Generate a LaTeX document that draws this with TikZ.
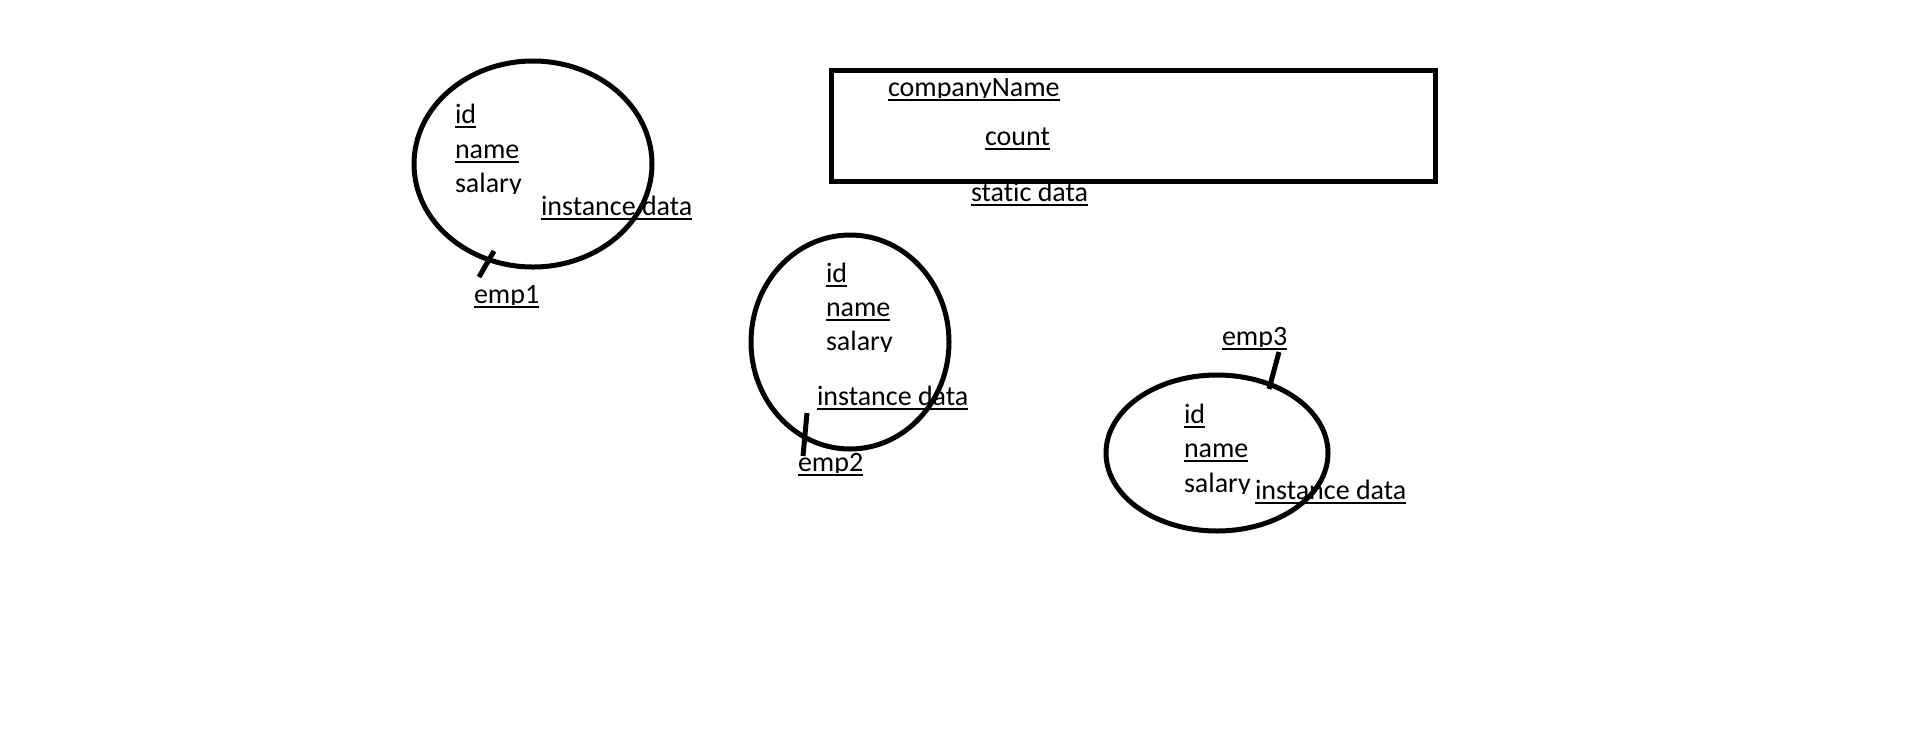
\documentclass[tikz,border=0pt]{standalone}
\usepackage{fontspec}
\setmainfont{Carlito}[Ligatures={NoCommon}]
\usetikzlibrary{calc,shapes.geometric}
\tikzset{
  oval/.style={draw, ellipse, line width=5pt, inner sep=0pt},
  lbl/.style={anchor=base west, inner sep=0pt, outer sep=0pt, font=\fontsize{28}{34}\selectfont},
  ulline/.style={line width=2pt},
  tickline/.style={line width=5pt},
  databox/.style={draw, line width=5pt, inner sep=0pt}
}
% clipped text (descenders cut like in the source), optional underline
\newcommand\cliptext[4]{%
  \begin{scope}
    \clip (#2-4,#3-40) rectangle (#2+400,#3+1.5);
    \node[lbl] (#1) at (#2,#3) {#4};
  \end{scope}}
\newcommand\ultext[4]{%
  \cliptext{#1}{#2}{#3}{#4}%
  \draw[ulline] ($(#1.base west)+(0,4)$) -- ($(#1.base east)+(0,4)$);}
\begin{document}
\begin{tikzpicture}[x=1pt, y=-1pt]
  \fill[white] (0,0) rectangle (1914,740);
  \useasboundingbox (0,0) rectangle (1914,740);

  % static data box
  \node[databox, minimum width=604pt, minimum height=111pt] (static) at (1133,125.5) {};
  \ultext{cname}{888}{96}{companyName}
  \ultext{count}{985}{145}{count}
  \ultext{stat}{971}{201}{static data}

  % emp1
  \node[oval, minimum width=238pt, minimum height=206pt] (e1) at (533,164) {};
  \ultext{id1}{455}{123}{id}
  \ultext{name1}{455}{158}{name}
  \cliptext{sal1}{455}{192}{salary}
  \ultext{inst1}{541}{215}{instance data}
  \ultext{emp1}{474}{303}{emp1}
  \coordinate (t1a) at (494,251);
  \coordinate (t1b) at (479,277);
  \draw[tickline] (t1a) -- (t1b);

  % emp2
  \node[oval, minimum width=198pt, minimum height=214pt] (e2) at (850,342) {};
  \ultext{id2}{826}{282}{id}
  \ultext{name2}{826}{316}{name}
  \cliptext{sal2}{826}{350}{salary}
  \ultext{inst2}{817}{405}{instance data}
  \ultext{emp2}{798}{471}{emp2}
  \coordinate (t2a) at (807,413);
  \coordinate (t2b) at (803,456);
  \draw[tickline] (t2a) -- (t2b);

  % emp3
  \node[oval, minimum width=222pt, minimum height=156pt] (e3) at (1217,453) {};
  \ultext{id3}{1184}{423}{id}
  \ultext{name3}{1184}{457}{name}
  \cliptext{sal3}{1184}{492}{salary}
  \ultext{inst3}{1255}{499}{instance data}
  \ultext{emp3}{1222}{345}{emp3}
  \coordinate (t3a) at (1279,352);
  \coordinate (t3b) at (1269,389);
  \draw[tickline] (t3a) -- (t3b);
\end{tikzpicture}
\end{document}
